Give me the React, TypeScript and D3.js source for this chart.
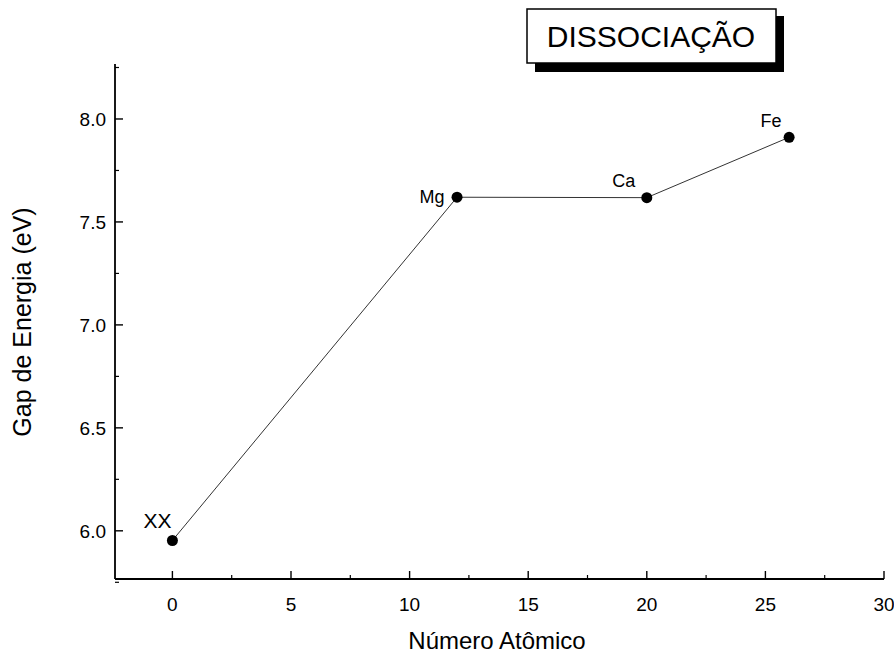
import React from "react";
import * as d3 from "d3";

// Energy gap versus atomic number (dissociation)
const elements = ["XX", "Mg", "Ca", "Fe"];
const atomicNumbers = [0, 12, 20, 26];
const gapValues = [5.953, 7.62, 7.618, 7.911];

const xMajorTicks = [0, 5, 10, 15, 20, 25, 30];
const xMinorTicks = [2.5, 7.5, 12.5, 17.5, 22.5, 27.5];
const yMajorTicks = [6.0, 6.5, 7.0, 7.5, 8.0];
const yMinorTicks = [5.75, 6.25, 6.75, 7.25, 7.75, 8.25];

const xTitle = "Número Atômico";
const yTitle = "Gap de Energia (eV)";
const legendText = "DISSOCIAÇÃO";

const W = 894;
const H = 660;
const left = 115;
const right = 884;
const top = 64;
const bottom = 579;

const FONT = "'Liberation Sans', Arial, sans-serif";

// label placement relative to each point: [dx, dy, fontSize]
const labelStyle: [number, number, number][] = [
  [-15, -12, 21],
  [-25, 6, 18],
  [-23, -11, 18],
  [-18, -10, 18],
];

export default function App() {
  const x = d3.scaleLinear().domain([-2.42, 30]).range([left, right]);
  const y = d3.scaleLinear().domain([5.766, 8.267]).range([bottom, top]);

  const points = atomicNumbers.map((a, i) => ({ a, g: gapValues[i], name: elements[i] }));
  const line = d3
    .line<{ a: number; g: number }>()
    .x((d) => x(d.a))
    .y((d) => y(d.g));

  return (
    <svg
      width={W}
      height={H}
      viewBox={`0 0 ${W} ${H}`}
      style={{ position: "absolute", left: 0, top: 0, background: "#fff" }}
    >
      <rect x={0} y={0} width={W} height={H} fill="#fff" />

      {/* axes */}
      <line x1={left} x2={left} y1={top} y2={bottom} stroke="#000" strokeWidth={1.8} />
      <line x1={left} x2={right} y1={bottom} y2={bottom} stroke="#000" strokeWidth={1.8} />

      {/* x ticks (inward) */}
      {xMajorTicks.map((t) => (
        <g key={`xm${t}`}>
          <line x1={x(t)} x2={x(t)} y1={bottom} y2={bottom - 8} stroke="#000" strokeWidth={1.4} />
          <text
            x={x(t)}
            y={bottom + 32}
            textAnchor="middle"
            fontFamily={FONT}
            fontSize={19}
            fill="#000"
          >
            {t}
          </text>
        </g>
      ))}
      {xMinorTicks.map((t) => (
        <line key={`xn${t}`} x1={x(t)} x2={x(t)} y1={bottom} y2={bottom - 4} stroke="#000" strokeWidth={1.2} />
      ))}

      {/* y ticks (inward) */}
      {yMajorTicks.map((t) => (
        <g key={`ym${t}`}>
          <line x1={left} x2={left + 8} y1={y(t)} y2={y(t)} stroke="#000" strokeWidth={1.4} />
          <text
            x={left - 9}
            y={y(t) + 7}
            textAnchor="end"
            fontFamily={FONT}
            fontSize={19}
            fill="#000"
          >
            {t.toFixed(1)}
          </text>
        </g>
      ))}
      {yMinorTicks.map((t) => (
        <line key={`yn${t}`} x1={left} x2={left + 4} y1={y(t)} y2={y(t)} stroke="#000" strokeWidth={1.2} />
      ))}

      {/* axis titles */}
      <text
        x={497}
        y={649}
        textAnchor="middle"
        fontFamily={FONT}
        fontSize={24}
        fill="#000"
      >
        {xTitle}
      </text>
      <text
        transform={`translate(31, 322) rotate(-90)`}
        textAnchor="middle"
        fontFamily={FONT}
        fontSize={25}
        fill="#000"
      >
        {yTitle}
      </text>

      {/* series */}
      <path d={line(points) ?? ""} fill="none" stroke="#333" strokeWidth={1} />
      {points.map((p, i) => (
        <g key={p.name}>
          <circle cx={x(p.a)} cy={y(p.g)} r={5.5} fill="#000" />
          <text
            x={x(p.a) + labelStyle[i][0]}
            y={y(p.g) + labelStyle[i][1]}
            textAnchor="middle"
            fontFamily={FONT}
            fontSize={labelStyle[i][2]}
            fill="#000"
          >
            {p.name}
          </text>
        </g>
      ))}

      {/* legend box with drop shadow */}
      <rect x={535} y={16} width={249} height={56} fill="#000" />
      <rect x={527} y={9} width={249} height={54} fill="#fff" stroke="#000" strokeWidth={1.5} />
      <text
        x={651}
        y={47}
        textAnchor="middle"
        fontFamily={FONT}
        fontSize={30}
        fill="#000"
      >
        {legendText}
      </text>
    </svg>
  );
}
